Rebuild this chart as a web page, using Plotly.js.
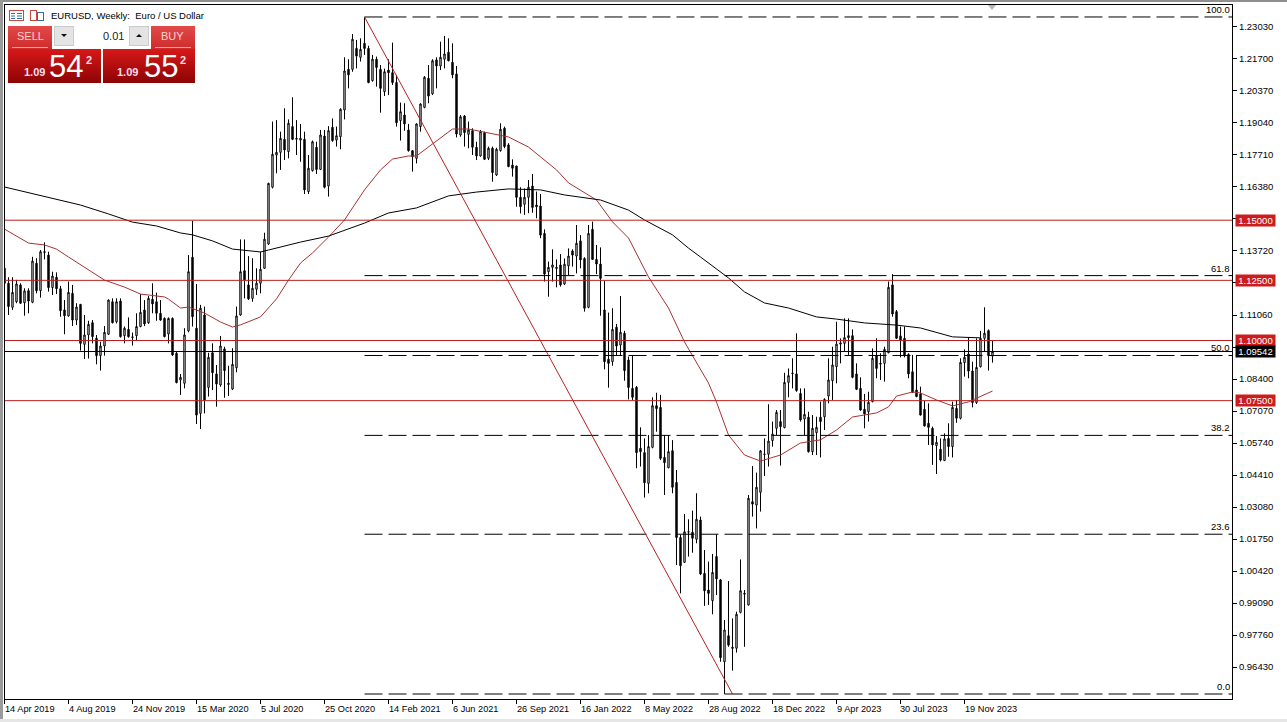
<!DOCTYPE html>
<html><head><meta charset="utf-8">
<script src="https://cdn.plot.ly/plotly-3.0.1.min.js"></script>
<style>
html,body{margin:0;padding:0;background:#fff;width:1287px;height:722px;overflow:hidden}
.b{position:absolute;box-sizing:border-box}
#chart{position:absolute;left:0;top:0;width:1287px;height:722px;z-index:2}
</style></head><body>
<div class="b" style="left:0;top:0;width:1287px;height:2px;background:#8f8f8f"></div>
<div class="b" style="left:0;top:0;width:3px;height:722px;background:#9a9a9a"></div>
<div class="b" style="left:0;top:719px;width:1287px;height:3px;background:#e6e6e6"></div>
<svg class="b" style="left:985px;top:4px;z-index:3" width="14" height="8"><polygon points="3,1 11,1 7,6" fill="#b5b5b5"/></svg>
<svg class="b" style="left:8px;top:8px" width="40" height="14">
<rect x="1.5" y="2.5" width="14" height="10" fill="#fff" stroke="#c9483f"/><path d="M3 5.5h4M9 5.5h5M3 8h4M9 8h5M3 10.5h4M9 10.5h5" stroke="#2f6cb5"/>
<rect x="22.5" y="2.5" width="6" height="10" fill="#fff" stroke="#c9483f"/><rect x="29.5" y="4.5" width="6" height="8" fill="#fff" stroke="#2f6cb5"/>
</svg>
<div class="b" style="left:8px;top:26px;width:44px;height:23px;background:linear-gradient(#e24a4a,#cf2b2b)"></div>
<div class="b" style="left:151px;top:26px;width:44px;height:23px;background:linear-gradient(#e24a4a,#cf2b2b)"></div>
<div class="b" style="left:12px;top:47px;width:36px;height:1px;background:#f0a0a0"></div>
<div class="b" style="left:155px;top:47px;width:36px;height:1px;background:#f0a0a0"></div>
<div class="b" style="left:54px;top:26px;width:20px;height:20px;background:#e4e4e4;border:1px solid #ccc"></div>
<div class="b" style="left:74px;top:26px;width:55px;height:20px;background:#fff"></div>
<div class="b" style="left:129px;top:26px;width:20px;height:20px;background:#e4e4e4;border:1px solid #ccc"></div>
<svg class="b" style="left:54px;top:26px;z-index:3" width="96" height="20"><polygon points="7,8 13,8 10,11" fill="#111"/><polygon points="82,11 88,11 85,8" fill="#111"/></svg>
<div class="b" style="left:8px;top:49px;width:93px;height:34px;background:linear-gradient(#d81818,#8c0404)"></div>
<div class="b" style="left:103px;top:49px;width:92px;height:34px;background:linear-gradient(#d81818,#8c0404)"></div>
<div id="chart"></div>
<script>
const opens=[1.1300,1.1238,1.1138,1.1161,1.1231,1.1157,1.1207,1.1159,1.1321,1.1207,
1.1366,1.1355,1.1220,1.1263,1.1215,1.1127,1.1102,1.1196,1.1085,1.1150,
1.0984,1.1023,1.1074,1.1009,1.0937,1.0977,1.1026,1.1161,1.1078,1.1164,
1.1020,1.1046,1.1015,1.1020,1.1058,1.1127,1.1074,1.1171,1.1161,1.1113,
1.1092,1.1027,1.1092,1.0947,1.0836,1.0822,1.1040,1.1346,1.1051,1.0697,
1.1106,1.0805,1.0949,1.0861,1.0815,1.0965,1.0822,1.0798,1.0887,1.1106,
1.1290,1.1231,1.1175,1.1213,1.1238,1.1300,1.1401,1.1637,1.1771,1.1782,
1.1836,1.1785,1.1889,1.1840,1.1833,1.1836,1.1619,1.1706,1.1803,1.1711,
1.1850,1.1642,1.1886,1.1833,1.1847,1.1958,1.2127,1.2127,1.2214,1.2177,
1.2235,1.2214,1.2080,1.2169,1.2127,1.2034,1.2124,1.2113,1.2072,1.1914,
1.1937,1.1875,1.1789,1.1757,1.1889,1.1969,1.2090,1.2025,1.2166,1.2141,
1.2169,1.2198,1.2156,1.2108,1.1854,1.1933,1.1857,1.1872,1.1803,1.1767,
1.1864,1.1757,1.1799,1.1688,1.1789,1.1882,1.1813,1.1729,1.1725,1.1595,
1.1566,1.1595,1.1642,1.1563,1.1559,1.1445,1.1286,1.1304,1.1304,1.1314,
1.1235,1.1310,1.1372,1.1351,1.1414,1.1341,1.1138,1.1462,1.1337,1.1318,
1.1127,1.0922,1.0912,1.1055,1.0981,1.1030,1.0919,1.0801,1.0805,1.0552,
1.0534,1.0406,1.0556,1.0729,1.0722,1.0514,1.0471,1.0542,1.0410,1.0181,
1.0078,1.0205,1.0203,1.0174,1.0254,1.0032,0.9963,0.9919,1.0102,1.0005,
0.9665,0.9773,0.9725,0.9721,0.9870,0.9949,0.9901,1.0330,1.0316,1.0369,
1.0528,1.0527,1.0584,1.0635,1.0663,1.0638,1.0826,1.0862,1.0861,1.0780,
1.0674,1.0681,1.0538,1.0617,1.0681,1.0683,1.0769,1.0833,1.0891,1.0985,
1.0988,1.1020,1.1020,1.0861,1.0801,1.0714,1.0704,1.0746,1.0936,1.0905,
1.0905,1.0949,1.1231,1.1120,1.1019,1.1009,1.0942,1.0870,1.0794,1.0778,
1.0714,1.0656,1.0635,1.0563,1.0548,1.0501,1.0593,1.0559,1.0718,1.0677,
1.0908,1.0944,1.0873,1.0742,1.0891,1.1009,1.1041,1.0935];
const highs=[1.1307,1.1263,1.1263,1.1252,1.1238,1.1217,1.1217,1.1348,1.1342,1.1376,
1.1408,1.1369,1.1286,1.1283,1.1227,1.1168,1.1245,1.1231,1.1155,1.1152,
1.1106,1.1082,1.1085,1.1023,1.0995,1.1060,1.1171,1.1175,1.1175,1.1175,
1.1058,1.1096,1.1033,1.1113,1.1193,1.1168,1.1185,1.1238,1.1199,1.1168,
1.1096,1.1096,1.1096,1.0954,1.0861,1.1051,1.1355,1.1498,1.1235,1.1148,
1.1141,1.0949,1.0988,1.0898,1.1019,1.0974,1.0895,1.0968,1.1141,1.1420,
1.1420,1.1351,1.1342,1.1300,1.1369,1.1448,1.1656,1.1910,1.1916,1.1868,
1.1965,1.1919,1.2011,1.1916,1.1900,1.1868,1.1771,1.1831,1.1826,1.1875,
1.1875,1.1891,1.1923,1.1889,1.1965,1.2177,1.2169,1.2274,1.2249,1.2256,
1.2345,1.2225,1.2187,1.2180,1.2145,1.2130,1.2169,1.2238,1.2104,1.1989,
1.1986,1.1900,1.1789,1.1903,1.1986,1.2099,1.2145,1.2169,1.2177,1.2242,
1.2266,1.2256,1.2235,1.2141,1.1937,1.1937,1.1910,1.1882,1.1826,1.1875,
1.1868,1.1806,1.1806,1.1801,1.1903,1.1889,1.1820,1.1753,1.1726,1.1637,
1.1632,1.1667,1.1692,1.1619,1.1609,1.1462,1.1328,1.1379,1.1337,1.1359,
1.1341,1.1383,1.1379,1.1480,1.1438,1.1346,1.1480,1.1494,1.1397,1.1387,
1.1247,1.1116,1.1134,1.1069,1.1185,1.1040,1.0933,1.0937,1.0811,1.0639,
1.0593,1.0607,1.0764,1.0783,1.0774,1.0607,1.0607,1.0586,1.0462,1.0192,
1.0279,1.0257,1.0293,1.0365,1.0268,1.0129,1.0081,1.0113,1.0194,1.0009,
0.9838,1.0000,0.9845,0.9873,1.0090,0.9963,1.0358,1.0478,1.0451,1.0545,
1.0593,1.0735,1.0663,1.0711,1.0711,1.0866,1.0884,1.0926,1.1030,1.0801,
1.0801,1.0704,1.0690,1.0683,1.0746,1.0760,1.0926,1.0974,1.1078,1.1009,
1.1092,1.1092,1.1046,1.0905,1.0847,1.0778,1.0787,1.0967,1.1009,1.0947,
1.0974,1.1245,1.1276,1.1127,1.1058,1.1058,1.0947,1.0940,1.0940,1.0808,
1.0750,1.0739,1.0642,1.0603,1.0593,1.0614,1.0656,1.0746,1.0753,1.0926,
1.0963,1.1013,1.0912,1.1009,1.1040,1.1138,1.1046,1.0999];
const lows=[1.1224,1.1106,1.1127,1.1155,1.1152,1.1103,1.1113,1.1155,1.1196,1.1178,
1.1337,1.1203,1.1189,1.1193,1.1099,1.1026,1.1099,1.1060,1.1064,1.0958,
1.0923,1.0925,1.0988,1.0901,1.0875,1.0937,1.1023,1.1071,1.1071,1.1012,
1.0988,1.1012,1.0979,1.0999,1.1055,1.1060,1.1069,1.1113,1.1082,1.1082,
1.1013,1.0988,1.0936,1.0822,1.0774,1.0801,1.1034,1.1058,1.0653,1.0632,
1.0697,1.0767,1.0794,1.0725,1.0808,1.0762,1.0769,1.0794,1.0868,1.1103,
1.1175,1.1168,1.1161,1.1189,1.1196,1.1298,1.1397,1.1632,1.1695,1.1709,
1.1750,1.1757,1.1833,1.1771,1.1743,1.1609,1.1609,1.1702,1.1692,1.1709,
1.1632,1.1598,1.1826,1.1806,1.1795,1.1919,1.2048,1.2117,1.2131,1.2159,
1.2187,1.2069,1.2076,1.2055,1.1947,1.2016,1.2020,1.2062,1.1889,1.1831,
1.1872,1.1785,1.1702,1.1736,1.1868,1.1965,1.1986,1.2020,1.2048,1.2124,
1.2131,1.2160,1.2090,1.1844,1.1847,1.1806,1.1799,1.1771,1.1750,1.1764,
1.1750,1.1750,1.1660,1.1684,1.1785,1.1799,1.1720,1.1681,1.1556,1.1528,
1.1522,1.1529,1.1531,1.1508,1.1425,1.1245,1.1182,1.1245,1.1221,1.1224,
1.1231,1.1272,1.1307,1.1279,1.1300,1.1120,1.1134,1.1335,1.1276,1.1103,
1.0880,1.0804,1.0895,1.0940,1.0940,1.0833,1.0755,1.0753,1.0469,1.0476,
1.0347,1.0365,1.0552,1.0621,1.0503,1.0358,1.0469,1.0365,1.0067,0.9949,
1.0076,1.0102,1.0118,1.0157,1.0025,0.9897,0.9901,0.9862,0.9942,0.9665,
0.9531,0.9727,0.9628,0.9703,0.9866,0.9727,0.9898,1.0268,1.0219,1.0289,
1.0437,1.0476,1.0559,1.0607,1.0480,1.0635,1.0764,1.0801,1.0787,1.0663,
1.0607,1.0534,1.0524,1.0524,1.0514,1.0628,1.0739,1.0753,1.0822,1.0905,
1.0956,1.0940,1.0843,1.0794,1.0708,1.0635,1.0663,1.0743,1.0843,1.0836,
1.0829,1.0947,1.1099,1.1006,1.0930,1.0930,1.0843,1.0783,1.0764,1.0688,
1.0642,1.0566,1.0483,1.0445,1.0497,1.0499,1.0517,1.0514,1.0658,1.0672,
1.0850,1.0843,1.0722,1.0736,1.0888,1.0954,1.0875,1.0908];
const closes=[1.1238,1.1141,1.1200,1.1235,1.1155,1.1206,1.1164,1.1330,1.1207,1.1369,
1.1369,1.1220,1.1268,1.1215,1.1124,1.1103,1.1200,1.1085,1.1139,1.0988,
1.1023,1.1067,1.1016,1.0937,1.0977,1.1034,1.1168,1.1074,1.1161,1.1016,
1.1051,1.1016,1.1013,1.1058,1.1117,1.1069,1.1175,1.1152,1.1113,1.1085,
1.1016,1.1092,1.0940,1.0825,1.0847,1.1023,1.1286,1.1099,1.0690,1.1134,
1.0753,1.0930,1.0866,1.0819,1.0977,1.0875,1.0818,1.0901,1.1102,1.1286,
1.1252,1.1173,1.1217,1.1238,1.1296,1.1421,1.1653,1.1774,1.1782,1.1840,
1.1792,1.1903,1.1836,1.1837,1.1840,1.1626,1.1716,1.1826,1.1711,1.1854,
1.1637,1.1872,1.1831,1.1851,1.1961,1.2120,1.2104,1.2252,1.2182,1.2210,
1.2214,1.2072,1.2169,1.2135,1.2048,1.2117,1.2113,1.2072,1.1905,1.1951,
1.1900,1.1789,1.1764,1.1900,1.1983,1.2094,1.2016,1.2163,1.2141,1.2177,
1.2191,1.2163,1.2104,1.1858,1.1930,1.1864,1.1875,1.1803,1.1767,1.1868,
1.1753,1.1799,1.1698,1.1795,1.1878,1.1806,1.1723,1.1716,1.1595,1.1556,
1.1595,1.1637,1.1553,1.1556,1.1438,1.1276,1.1304,1.1314,1.1300,1.1231,
1.1317,1.1351,1.1355,1.1404,1.1335,1.1134,1.1445,1.1337,1.1318,1.1258,
1.0912,1.0905,1.1046,1.0977,1.1034,1.0875,1.0805,1.0764,1.0534,1.0538,
1.0409,1.0559,1.0729,1.0717,1.0510,1.0492,1.0538,1.0390,1.0181,1.0064,
1.0205,1.0204,1.0178,1.0257,1.0030,0.9960,0.9949,1.0036,1.0009,0.9682,
0.9797,0.9734,0.9721,0.9862,0.9960,0.9946,1.0344,1.0320,1.0390,1.0541,
1.0527,1.0582,1.0611,1.0701,1.0642,1.0826,1.0854,1.0864,1.0792,1.0670,
1.0693,1.0538,1.0635,1.0639,1.0663,1.0755,1.0836,1.0898,1.0985,1.0990,
1.1012,1.1012,1.0847,1.0797,1.0711,1.0695,1.0743,1.0926,1.0884,1.0902,
1.0963,1.1221,1.1110,1.1009,1.0999,1.0936,1.0861,1.0785,1.0767,1.0690,
1.0645,1.0639,1.0566,1.0577,1.0503,1.0591,1.0559,1.0722,1.0677,1.0909,
1.0930,1.0873,1.0742,1.0888,1.1009,1.1030,1.0937,1.09542];
const weekIndex=opens.map((_,i)=>i);

const redMaWeek=[0,4,6,10,13,16,21,25,30,34,40,41,44,46,50,54,57,59,64,68,71,74,77,81,85,90,94,97,101,103,107,112,116,124,126,131,138,141,148,152,156,161,166,170,176,178,181,185,189,194,199,204,208,212,218,221,223,227,229,233,237,241,245,247];
const redMaValue=[1.1463,1.1426,1.1405,1.1397,1.1380,1.1347,1.1293,1.1251,1.1222,1.1193,1.1181,1.1172,1.1135,1.1139,1.1114,1.1077,1.1056,1.1065,1.1098,1.1173,1.1251,1.1322,1.1364,1.1430,1.1501,1.1626,1.1709,1.1754,1.1767,1.1767,1.1817,1.1879,1.1879,1.1854,1.1846,1.1804,1.1709,1.1655,1.1584,1.1493,1.1426,1.1264,1.1135,1.0994,1.0823,1.0744,1.0607,1.0524,1.0499,1.0524,1.0574,1.0587,1.0628,1.0682,1.0699,1.0724,1.0769,1.0786,1.0782,1.0753,1.0728,1.0745,1.0774,1.0790];
const blackMaWeek=[0,14,19,26,32,38,44,47,52,57,64,66,74,81,90,96,103,111,118,126,134,140,149,156,160,167,171,174,181,185,190,196,203,208,215,223,229,237,244];
const blackMaValue=[1.1638,1.1584,1.1563,1.1526,1.1492,1.1476,1.1447,1.1439,1.1414,1.1380,1.1368,1.1376,1.1409,1.1434,1.1488,1.1530,1.1551,1.1601,1.1617,1.1630,1.1626,1.1605,1.1584,1.1542,1.1501,1.1439,1.1384,1.1347,1.1260,1.1202,1.1156,1.1135,1.1098,1.1089,1.1073,1.1064,1.1052,1.1015,1.1011];

const fibHigh=1.23446, fibLow=0.95308;
const fibRatios=[100.0,61.8,50.0,38.2,23.6,0.0];
const fibLabels=["100.0","61.8","50.0","38.2","23.6","0.0"];
const fibStartWeek=90, fibEndWeek=182, lastAxisWeek=308;
const redLevels=[1.15,1.125,1.10,1.075];
const redLevelLabels=["1.15000","1.12500","1.10000","1.07500"];
const lastPrice=1.09542, lastPriceLabel="1.09542";
const yTicks=[1.2303,1.2170,1.2037,1.1904,1.1771,1.1638,1.1505,1.1372,1.1239,1.1106,1.0973,1.0840,1.0707,1.0574,1.0441,1.0308,1.0175,1.0042,0.9909,0.9776,0.9643];
const yTicksCovered=[1.1505,1.1239,1.0973];
const xTickWeeks=[0,16,32,48,64,80,96,112,128,144,160,176,192,208,224,240];
const xTickLabels=["14 Apr 2019","4 Aug 2019","24 Nov 2019","15 Mar 2020","5 Jul 2020","25 Oct 2020","14 Feb 2021","6 Jun 2021","26 Sep 2021","16 Jan 2022","8 May 2022","28 Aug 2022","18 Dec 2022","9 Apr 2023","30 Jul 2023","19 Nov 2023"];

const F="Liberation Sans, Arial, sans-serif";
const L=5,T=5,W=1227,H=694;
const X0=0.125, pxPerWeek=4;
const px=x=>(x-L)/W, py=y=>(T+H-y)/H;
const weekPaper=w=>(w-X0)*pxPerWeek/W;
const RED="#b8201f";

const traces=[{type:"candlestick",x:weekIndex,open:opens,high:highs,low:lows,close:closes,
  increasing:{line:{color:"#000",width:1},fillcolor:"#fff"},
  decreasing:{line:{color:"#000",width:1},fillcolor:"#000"},
  whiskerwidth:0,hoverinfo:"skip",showlegend:false}];
const line=(x,y,color,dash)=>traces.push({type:"scatter",mode:"lines",x,y,line:{color,width:1,dash:dash||"solid"},hoverinfo:"skip",showlegend:false});
line(redMaWeek,redMaValue,"#a83232");
line(blackMaWeek,blackMaValue,"#000");
fibRatios.forEach(r=>{const v=fibLow+(fibHigh-fibLow)*r/100;line([fibStartWeek,lastAxisWeek],[v,v],"#000","18px,6px");});
line([fibStartWeek,fibEndWeek],[fibHigh,fibLow],RED);
redLevels.forEach(v=>line([-1,lastAxisWeek],[v,v],RED));
line([-1,lastAxisWeek],[lastPrice,lastPrice],"#000");

const ann=[];
const txt=(x,y,text,size,color,anchor,extra)=>ann.push(Object.assign({xref:"paper",yref:"paper",x:px(x),y:py(y),text,showarrow:false,xanchor:anchor||"left",yanchor:"middle",borderpad:0,font:{family:F,size,color}},extra||{}));
xTickWeeks.forEach((w,i)=>ann.push({xref:"paper",yref:"paper",x:weekPaper(w),y:py(709),text:xTickLabels[i],showarrow:false,xanchor:"left",yanchor:"middle",borderpad:0,xshift:-1,font:{family:F,size:9.2,color:"#000"}}));
fibRatios.forEach((r,i)=>{const v=fibLow+(fibHigh-fibLow)*r/100;ann.push({xref:"paper",yref:"y",x:1,y:v,text:fibLabels[i],showarrow:false,xanchor:"right",yanchor:"bottom",yshift:1,xshift:-1,borderpad:0,font:{family:F,size:9.5,color:"#000"}});});
const tag=(v,label,bg)=>ann.push({xref:"paper",yref:"y",x:px(1235),y:v,text:label,showarrow:false,xanchor:"left",yanchor:"middle",width:39,height:11,bgcolor:bg,borderpad:0,font:{family:F,size:9.5,color:"#fff"}});
redLevels.forEach((v,i)=>tag(v,redLevelLabels[i],"#cc1c1c"));
tag(lastPrice,lastPriceLabel,"#000");

txt(50,15.5,"EURUSD, Weekly:  Euro / US Dollar",9.5,"#000");
txt(30,36,"SELL",11,"#fbd5d5","center");
txt(172,36,"BUY",11,"#fbd5d5","center");
txt(125,36,"0.01",11,"#222","right");
txt(34,72,"<b>1.09</b>",11,"#fde","center");
txt(65.5,66,"54",31,"#fff","center");
txt(89,60,"<b>2</b>",11,"#fde","center");
txt(127,72,"<b>1.09</b>",11,"#fde","center");
txt(160.5,66,"55",31,"#fff","center");
txt(183,60,"<b>2</b>",11,"#fde","center");

const layout={width:1287,height:722,margin:{l:L,t:T,r:1287-L-W,b:722-T-H,pad:0},autosize:false,
  paper_bgcolor:"rgba(0,0,0,0)",plot_bgcolor:"rgba(0,0,0,0)",showlegend:false,dragmode:false,boxgap:0.5,
  xaxis:{type:"linear",range:[X0,X0+W/pxPerWeek],rangeslider:{visible:false},showgrid:false,zeroline:false,
    showline:true,mirror:true,linecolor:"#000",linewidth:1,ticks:"outside",ticklen:4,tickcolor:"#000",tickwidth:1,
    tickmode:"array",tickvals:xTickWeeks,ticktext:xTickWeeks.map(()=>""),showticklabels:false},
  yaxis:{type:"linear",side:"right",range:[0.95100,1.23944],showgrid:false,zeroline:false,
    showline:true,mirror:true,linecolor:"#000",linewidth:1,ticks:"outside",ticklen:4,tickcolor:"#000",tickwidth:1,
    tickmode:"array",tickvals:yTicks,ticktext:yTicks.map(v=>yTicksCovered.includes(v)?"":v.toFixed(5)),tickfont:{family:F,size:9.5,color:"#000"}},
  shapes:[{type:"line",xref:"paper",yref:"paper",x0:weekPaper(0),x1:weekPaper(0),y0:py(699.5),y1:py(704),line:{color:"#000",width:1}}],
  annotations:ann};
Plotly.newPlot("chart",traces,layout,{staticPlot:true,displayModeBar:false});
</script>
</body></html>
